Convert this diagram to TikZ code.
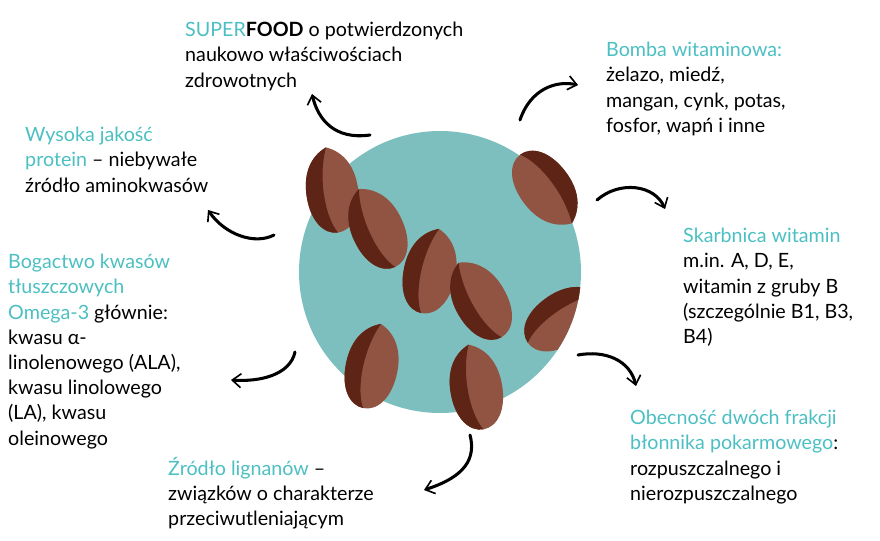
\documentclass[tikz,border=0pt]{standalone}
\usepackage{fontspec}
\setmainfont{Lato}
\usepackage{xcolor}
\usetikzlibrary{positioning,arrows.meta}
\definecolor{teal1}{HTML}{4CBFC2}
\definecolor{disc}{HTML}{7DBFBF}
\definecolor{seeddark}{HTML}{5E2416}
\definecolor{seedlight}{HTML}{925442}
\begin{document}
\begin{tikzpicture}[x=0.3mm,y=-0.3mm,
        txt/.style={anchor=north west, align=left, inner sep=0pt, font=\fontsize{16.8}{21.5}\selectfont},
        curvy/.style={-{Straight Barb[length=2.6mm,width=4.2mm,line width=1.4pt]}, line width=2.6pt, line cap=round},
        seed/.pic={
            \fill[seedlight] (0,-43) .. controls (5,-41) and (26,-32) .. (26,2)
                .. controls (26,28) and (14,43) .. (0,43)
                .. controls (-14,43) and (-26,28) .. (-26,2)
                .. controls (-26,-32) and (-5,-41) .. (0,-43);
            \fill[seeddark] (0,-43) .. controls (-5,-41) and (-26,-32) .. (-26,2)
                .. controls (-26,28) and (-14,43) .. (0,43)
                .. controls (-11,25) and (-12,-15) .. (0,-43);
        }
    ]
    \useasboundingbox (0,0) rectangle (880,540);
    \fill[disc] (440,272) circle (141);
    % seeds
    \foreach \x/\y/\a in {332/190/8, 377/228/25, 430/271/-12, 480/300/30,
                          546/189/-143, 372/366/-12, 476/387/10}
        \pic[rotate=\a] at (\x,\y) {seed};
    \begin{scope}
        \clip (440,272) circle (141);
        \pic[rotate=-55] at (563,318) {seed};
    \end{scope}
    % texts
    \node[txt] (superfood) at (185,22) {{\color{teal1}SUPER}\textbf{FOOD} o potwierdzonych\\naukowo właściwościach\\zdrowotnych};
    \node[txt] (bomba) at (606,42) {\textcolor{teal1}{Bomba witaminowa:}\\żelazo, miedź,\\mangan, cynk, potas,\\fosfor, wapń i inne};
    \node[txt] (protein) at (25,127) {\textcolor{teal1}{Wysoka jakość}\\\textcolor{teal1}{protein} – niebywałe\\źródło aminokwasów};
    \node[txt] (skarbnica) at (683,228) {\textcolor{teal1}{Skarbnica witamin}\\m.in. A, D, E,\\witamin z gruby B\\(szczególnie B1, B3,\\B4)};
    \node[txt] (omega) at (8,254) {\textcolor{teal1}{Bogactwo kwasów}\\\textcolor{teal1}{tłuszczowych}\\\textcolor{teal1}{Omega-3} głównie:\\kwasu α-\\linolenowego (ALA),\\kwasu linolowego\\(LA), kwasu\\oleinowego};
    \node[txt] (blonnik) at (630,410) {\textcolor{teal1}{Obecność dwóch frakcji}\\\textcolor{teal1}{błonnika pokarmowego}:\\rozpuszczalnego i\\nierozpuszczalnego};
    \node[txt] (lignany) at (168,457) {\textcolor{teal1}{Źródło lignanów} –\\związków o charakterze\\przeciwutleniającym};
    % arrows
    \coordinate (a1) at (370,135); \coordinate (b1) at (312,94);
    \coordinate (a2) at (520,120); \coordinate (b2) at (578,85);
    \coordinate (a3) at (597,200); \coordinate (b3) at (665,209);
    \coordinate (a4) at (578,355); \coordinate (b4) at (636,386);
    \coordinate (a5) at (470,435); \coordinate (b5) at (424,490);
    \coordinate (a6) at (295,352); \coordinate (b6) at (231,380);
    \coordinate (a7) at (274,235); \coordinate (b7) at (208,210);
    \draw[curvy] (a1) .. controls (335,140) and (318,120) .. (b1);
    \draw[curvy] (a2) .. controls (530,90) and (555,80) .. (b2);
    \draw[curvy] (a3) .. controls (620,180) and (655,185) .. (b3);
    \draw[curvy] (a4) .. controls (605,350) and (630,360) .. (b4);
    \draw[curvy] (a5) .. controls (478,465) and (455,480) .. (b5);
    \draw[curvy] (a6) .. controls (290,375) and (260,382) .. (b6);
    \draw[curvy] (a7) .. controls (255,245) and (225,235) .. (b7);
\end{tikzpicture}
\end{document}
